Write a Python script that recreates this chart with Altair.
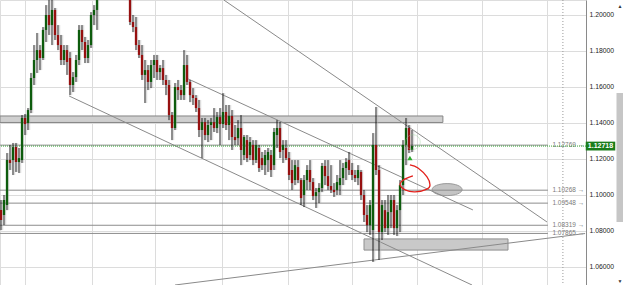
import altair as alt
import pandas as pd

# ---------------- data ----------------
opens = [1.0916,1.0889,1.0944,1.1194,1.1194,1.1266,1.1183,1.1194,1.1428,1.1400,
         1.1472,1.1650,1.1750,1.1805,1.1761,1.1917,1.2000,1.1944,1.2028,1.1889,
         1.1833,1.1750,1.1805,1.1761,1.1611,1.1655,1.1750,1.1917,1.1850,1.1761,
         1.1833,1.2000,1.2028,1.2100,1.2140,1.2190,1.2230,1.2200,1.2250,1.2280,
         1.2210,1.2170,1.2150,1.2111,1.1961,1.1933,1.1833,1.1778,1.1667,1.1694,
         1.1628,1.1722,1.1750,1.1683,1.1705,1.1639,1.1611,1.1444,1.1372,1.1600,
         1.1583,1.1555,1.1722,1.1628,1.1555,1.1539,1.1483,1.1361,1.1405,1.1333,
         1.1389,1.1405,1.1372,1.1433,1.1394,1.1461,1.1389,1.1439,1.1322,1.1316,
         1.1372,1.1222,1.1305,1.1222,1.1278,1.1194,1.1261,1.1205,1.1166,1.1194,
         1.1222,1.1166,1.1333,1.1372,1.1250,1.1261,1.1205,1.1139,1.1083,1.1155,
         1.1083,1.1000,1.1083,1.1139,1.1072,1.0994,1.1016,1.1039,1.1161,1.1105,
         1.1050,1.1028,1.1028,1.1055,1.1094,1.1150,1.1194,1.1139,1.1111,1.1094,
         1.1128,1.1000,1.0889,1.0833,1.0805,1.1278,1.1139,1.0794,1.0916,1.0816,
         1.0905,1.0972,1.0816,1.0916,1.1055,1.1278,1.1372,1.1250]
highs = [1.0972,1.1000,1.1233,1.1278,1.1289,1.1289,1.1261,1.1444,1.1450,1.1483,
         1.1678,1.1833,1.1900,1.1833,1.1933,1.2055,1.2083,1.2100,1.2039,1.1944,
         1.1889,1.1833,1.1833,1.1794,1.1683,1.1778,1.1944,1.1944,1.1878,1.1861,
         1.2016,1.2055,1.2111,1.2160,1.2210,1.2260,1.2300,1.2280,1.2320,1.2300,
         1.2250,1.2220,1.2180,1.2139,1.2000,1.1989,1.1861,1.1833,1.1750,1.1722,
         1.1750,1.1778,1.1778,1.1722,1.1750,1.1667,1.1639,1.1461,1.1622,1.1639,
         1.1611,1.1805,1.1778,1.1639,1.1594,1.1555,1.1528,1.1428,1.1428,1.1416,
         1.1428,1.1483,1.1461,1.1483,1.1566,1.1500,1.1500,1.1472,1.1389,1.1416,
         1.1444,1.1333,1.1333,1.1322,1.1305,1.1305,1.1278,1.1239,1.1250,1.1261,
         1.1250,1.1372,1.1416,1.1405,1.1305,1.1305,1.1239,1.1194,1.1194,1.1194,
         1.1094,1.1111,1.1166,1.1194,1.1094,1.1039,1.1066,1.1178,1.1194,1.1194,
         1.1166,1.1066,1.1111,1.1194,1.1178,1.1205,1.1239,1.1178,1.1139,1.1166,
         1.1139,1.1028,1.0944,1.0972,1.1344,1.1489,1.1166,1.0972,1.0972,1.1000,
         1.1000,1.1000,1.0944,1.1083,1.1305,1.1428,1.1389,1.1361]
lows = [1.0805,1.0833,1.0916,1.1139,1.1111,1.1128,1.1122,1.1178,1.1333,1.1361,
        1.1455,1.1611,1.1678,1.1694,1.1750,1.1850,1.1889,1.1833,1.1861,1.1805,
        1.1722,1.1722,1.1667,1.1555,1.1572,1.1628,1.1722,1.1805,1.1733,1.1733,
        1.1817,1.1944,1.1917,1.2095,1.2120,1.2150,1.2180,1.2160,1.2200,1.2180,
        1.2140,1.2120,1.2100,1.1944,1.1905,1.1805,1.1761,1.1639,1.1511,1.1583,
        1.1594,1.1650,1.1639,1.1639,1.1611,1.1555,1.1416,1.1305,1.1361,1.1528,
        1.1528,1.1528,1.1611,1.1516,1.1500,1.1461,1.1322,1.1205,1.1305,1.1294,
        1.1305,1.1350,1.1344,1.1278,1.1372,1.1361,1.1305,1.1250,1.1278,1.1278,
        1.1166,1.1194,1.1183,1.1194,1.1166,1.1178,1.1128,1.1139,1.1111,1.1128,
        1.1100,1.1139,1.1261,1.1205,1.1178,1.1194,1.1083,1.1028,1.1055,1.1066,
        1.0944,1.0933,1.1028,1.1028,1.0972,1.0928,1.0955,1.1016,1.1055,1.1028,
        1.1011,1.0989,1.1000,1.1000,1.1055,1.1083,1.1111,1.1083,1.1072,1.1055,
        1.0972,1.0850,1.0794,1.0778,1.0628,1.1111,1.0639,1.0750,1.0794,1.0778,
        1.0816,1.0778,1.0772,1.0794,1.1000,1.1166,1.1233,1.1239]
closes = [1.0861,1.0972,1.1194,1.1178,1.1266,1.1183,1.1205,1.1428,1.1394,1.1472,
          1.1650,1.1750,1.1805,1.1761,1.1917,1.2000,1.1944,1.2028,1.1889,1.1833,
          1.1750,1.1805,1.1739,1.1611,1.1655,1.1750,1.1917,1.1850,1.1761,1.1833,
          1.2000,1.2028,1.2083,1.2140,1.2190,1.2230,1.2200,1.2250,1.2280,1.2210,
          1.2170,1.2150,1.2120,1.1961,1.1933,1.1833,1.1778,1.1667,1.1694,1.1628,
          1.1722,1.1750,1.1683,1.1705,1.1639,1.1611,1.1444,1.1372,1.1600,1.1583,
          1.1555,1.1722,1.1628,1.1555,1.1539,1.1483,1.1361,1.1405,1.1333,1.1389,
          1.1405,1.1372,1.1433,1.1394,1.1461,1.1389,1.1439,1.1322,1.1305,1.1372,
          1.1250,1.1322,1.1205,1.1294,1.1194,1.1278,1.1150,1.1166,1.1222,1.1239,
          1.1139,1.1350,1.1372,1.1239,1.1278,1.1205,1.1111,1.1066,1.1166,1.1083,
          1.0983,1.1083,1.1139,1.1072,1.0994,1.1016,1.1039,1.1161,1.1105,1.1050,
          1.1028,1.1016,1.1072,1.1094,1.1150,1.1183,1.1139,1.1111,1.1094,1.1139,
          1.1000,1.0889,1.0833,1.0944,1.1278,1.1139,1.0794,1.0944,1.0816,1.0905,
          1.0972,1.0816,1.0916,1.1055,1.1278,1.1372,1.1250,1.1272]

y_ticks = [1.06, 1.08, 1.10, 1.12, 1.14, 1.16, 1.18, 1.20]
x_grid = [8, 30.3, 51.3, 73.7, 95.7, 117, 138.7, 160.3, 182]

level_values = [1.12769, 1.10268, 1.09548, 1.08319, 1.07865]
last_price = 1.12718

# trend lines: start bar, start price, end bar, end price
tl_x1 = [74.3, 22.7, 61.7, 58.0]
tl_y1 = [1.2083, 1.1550, 1.1650, 1.0500]
tl_x2 = [182.0, 157.0, 157.3, 194.7]
tl_y2 = [1.0850, 1.0500, 1.0917, 1.0786]

# drawn zones
band_x = [-0.33, 147.3]; band_y = [1.1403, 1.1439]
box_x = [121.0, 169.0]; box_y = [1.0694, 1.0756]
ellipse_x = 148.7; ellipse_y = 1.1030

# hand drawn red loop
red_x = [137.3, 135.3, 133.7, 133.0, 134.7, 138.0, 142.0, 143.0, 142.0, 139.0, 136.3]
red_y = [1.1106, 1.1094, 1.1078, 1.1056, 1.1028, 1.1017, 1.1033, 1.1056, 1.1100, 1.1150, 1.1167]

arrow_x = 136.3; arrow_y = 1.1206

# ---------------- build ----------------
df = pd.DataFrame({"i": list(range(len(opens))), "open": opens, "high": highs,
                   "low": lows, "close": closes})
df["dir"] = ["up" if c >= o else "down" for o, c in zip(opens, closes)]

XS = alt.Scale(domain=[-1/3, 195], nice=False, zero=False, padding=0)
YS = alt.Scale(domain=[1.05, 1.20833], nice=False, zero=False, padding=0)

xaxis = alt.Axis(values=x_grid, labels=False, ticks=False, domain=False, grid=True,
                 gridColor="#dcdcdc", gridWidth=1, title=None)
yaxis = alt.Axis(orient="right", values=y_ticks, format=".5f", labelFontSize=6.8,
                 labelFont="Liberation Sans", labelColor="#222", ticks=False,
                 labelPadding=3, domain=True, domainColor="#8a8a8a", grid=True,
                 gridColor="#dcdcdc", gridWidth=1, title=None)


def X(f):
    return alt.X(f, scale=XS, axis=xaxis)


def Y(f):
    return alt.Y(f, scale=YS, axis=yaxis)


base = alt.Chart(df)

shadow = base.mark_rule(color="#b4b4b4", strokeWidth=1.3, opacity=0.45,
                        xOffset=1.6, clip=True).encode(
    x=X("i:Q"), y=Y("low:Q"), y2="high:Q")
wicks = base.mark_rule(color="#1a1a1a", strokeWidth=1, clip=True).encode(
    x=X("i:Q"), y=Y("low:Q"), y2="high:Q")
bodies = base.mark_bar(size=2.3, clip=True).encode(
    x=X("i:Q"), y=Y("open:Q"), y2="close:Q",
    color=alt.Color("dir:N", scale=alt.Scale(domain=["up", "down"],
                    range=["#0d5c0d", "#961010"]), legend=None),
)

band = alt.Chart(pd.DataFrame({"x1": [band_x[0]], "x2": [band_x[1]],
                               "y1": [band_y[0]], "y2": [band_y[1]]})).mark_rect(
    fill="#cfcfcf", stroke="#858585", strokeWidth=1, clip=True).encode(
    x=X("x1:Q"), x2="x2:Q", y=Y("y1:Q"), y2="y2:Q")

box = alt.Chart(pd.DataFrame({"x1": [box_x[0]], "x2": [box_x[1]],
                              "y1": [box_y[0]], "y2": [box_y[1]]})).mark_rect(
    fill="#c9c9c9", stroke="#8f8f8f", strokeWidth=1, clip=True).encode(
    x=X("x1:Q"), x2="x2:Q", y=Y("y1:Q"), y2="y2:Q")

ell_path = ("M -1 0 C -1 -0.221 -0.552 -0.4 0 -0.4 C 0.552 -0.4 1 -0.221 1 0 "
            "C 1 0.221 0.552 0.4 0 0.4 C -0.552 0.4 -1 0.221 -1 0 Z")
ellipse = alt.Chart(pd.DataFrame({"x": [ellipse_x], "y": [ellipse_y]})).mark_point(
    shape=ell_path, size=900, filled=True, fill="#c4c4c4", stroke="#9a9a9a",
    strokeWidth=1, opacity=1).encode(x=X("x:Q"), y=Y("y:Q"))

lvl_df = pd.DataFrame({"y": level_values, "x1": [-1/3] * 5, "x2": [182.3] * 5,
                       "xt": [183.8] * 5,
                       "t": [f"{v:.5f} \u2192" for v in level_values]})
levels = alt.Chart(lvl_df).mark_rule(color="#8c8c8c", strokeWidth=1).encode(
    x=X("x1:Q"), x2="x2:Q", y=Y("y:Q"))
level_text = alt.Chart(lvl_df).mark_text(align="left", baseline="middle",
    fontSize=6.5, font="Liberation Sans", color="#7a7a7a").encode(
    x=X("xt:Q"), y=Y("y:Q"), text="t:N")

vdot = alt.Chart(pd.DataFrame({"x": [187.3]})).mark_rule(
    color="#9a9a9a", strokeDash=[1, 2], strokeWidth=1).encode(x=X("x:Q"))

price_line = alt.Chart(pd.DataFrame({"y": [last_price]})).mark_rule(
    color="#3aa83a", strokeDash=[1, 1], strokeWidth=1).encode(y=Y("y:Q"))

tl_df = pd.DataFrame({"x1": tl_x1, "y1": tl_y1, "x2": tl_x2, "y2": tl_y2})
tlines = alt.Chart(tl_df).mark_rule(color="#8a8a8a", strokeWidth=1, clip=True).encode(
    x=X("x1:Q"), x2="x2:Q", y=Y("y1:Q"), y2="y2:Q")

red_df = pd.DataFrame({"x": red_x, "y": red_y, "o": list(range(len(red_x)))})
red = alt.Chart(red_df).mark_line(color="#e3201b", strokeWidth=1.3,
                                  interpolate="cardinal").encode(
    x=X("x:Q"), y=Y("y:Q"), order="o:Q")

arrow = alt.Chart(pd.DataFrame({"x": [arrow_x], "y": [arrow_y]})).mark_point(
    shape="triangle-up", size=28, filled=True, color="#2eaa2e", opacity=1).encode(
    x=X("x:Q"), y=Y("y:Q"))

halo = alt.Chart(pd.DataFrame({"x": [137.3], "y": [1.1294]})).mark_point(
    shape="circle", size=220, filled=False, color="#8fd08f", opacity=0.35,
    strokeWidth=1).encode(x=X("x:Q"), y=Y("y:Q"))

tag_path = "M -1 -0.3 L 1 -0.3 L 1 0.3 L -1 0.3 Z"
tag_df = pd.DataFrame({"y": [last_price], "t": [f"{last_price:.5f}"]})
tag = alt.Chart(tag_df).mark_point(shape=tag_path, size=870, filled=True,
                                   fill="#1b7d1b", opacity=1, strokeWidth=0).encode(
    x=alt.value(600.5), y=Y("y:Q"))
tag_text = alt.Chart(tag_df).mark_text(fontSize=7, font="Liberation Sans",
                                       fontWeight="bold", color="white").encode(
    x=alt.value(600.5), y=Y("y:Q"), text="t:N")

# scrollbar chrome
one = alt.Data(values=[{"a": 1}])
sb_thumb = alt.Chart(one).mark_rect(fill="#c6c6c6").encode(
    x=alt.value(616.5), x2=alt.value(623), y=alt.value(93), y2=alt.value(222))
sb_up = alt.Chart(one).mark_text(text="\u25b2", fontSize=5, color="#333").encode(
    x=alt.value(620), y=alt.value(6))
sb_dn = alt.Chart(one).mark_text(text="\u25bc", fontSize=5, color="#333").encode(
    x=alt.value(620), y=alt.value(281))

chart = alt.layer(
    band, box, ellipse, levels, level_text, vdot, tlines, price_line,
    shadow, wicks, bodies, red, halo, arrow, tag, tag_text, sb_thumb, sb_up, sb_dn,
).properties(
    width=586, height=285,
    autosize=alt.AutoSizeParams(type="none"),
    padding={"left": 0, "right": 39, "top": 0, "bottom": 0},
).configure_view(stroke=None).configure(background="white")

chart.save("out.html", embed_options={"renderer": "svg", "actions": False})
